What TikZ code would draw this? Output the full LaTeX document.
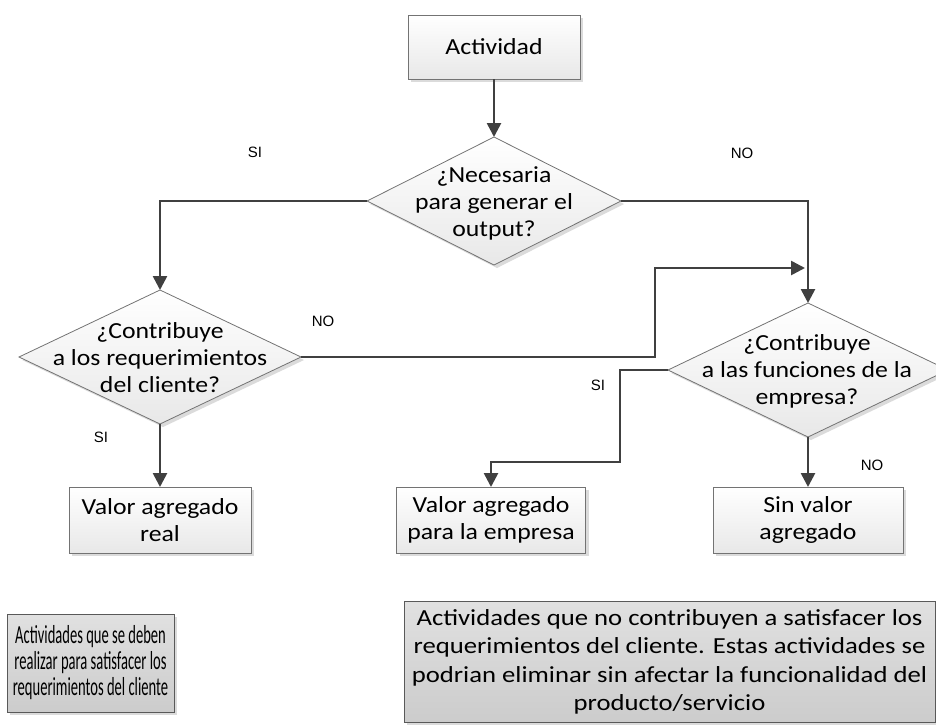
\documentclass[tikz,border=0pt]{standalone}
\usepackage{fontspec}
\setmainfont{Carlito}
\newfontfamily\mf[FakeStretch=1.12]{Carlito}
\newfontfamily\cf[FakeStretch=0.56]{Carlito}
\newfontfamily\cff[FakeStretch=1.16]{Carlito}
\newfontfamily\lf{Liberation Sans}
\usetikzlibrary{shapes.geometric,arrows.meta,shadows}
\begin{document}
\begin{tikzpicture}[x=1pt,y=-1pt,
  conn/.style={draw=black!75, line width=2.6pt},
  arr/.style={conn, -{Triangle[length=14pt,width=14pt]}},
  shade/.style={drop shadow={shadow xshift=3pt,shadow yshift=-3pt,fill=black!14,opacity=1}},
  procbox/.style={shade, draw=black!55, line width=0.8pt, top color=white, bottom color=black!9,
    inner sep=0pt, outer sep=0pt, align=center, font=\mf\fontsize{23}{27}\selectfont},
  dia/.style={shape=diamond, shade, draw=black!55, line width=0.8pt, top color=white, bottom color=black!9,
    inner sep=0pt, outer sep=0pt},
  dtext/.style={align=center, font=\mf\fontsize{23}{27}\selectfont, inner sep=0pt},
  notebox/.style={shade, draw=black!65, line width=0.8pt, top color=black!12, bottom color=black!20,
    inner sep=0pt, outer sep=0pt, align=center},
  lab/.style={font=\lf\fontsize{15}{18}\selectfont, inner sep=0pt}]
\useasboundingbox (0,0) rectangle (936,724);

% process boxes
\node[procbox, minimum width=172pt, minimum height=64pt] (act) at (494,47) {Actividad};
\node[procbox, minimum width=182pt, minimum height=66pt] (b1) at (160,520) {Valor agregado\\real};
\node[procbox, minimum width=189pt, minimum height=66pt] (b2) at (491,520) {Valor agregado\\para la empresa};
\node[procbox, minimum width=190pt, minimum height=66pt] (b3) at (808,520) {Sin valor\\agregado};

% decisions
\node[dia, minimum width=254pt, minimum height=128pt] (d1) at (494,201) {};
\node[dtext] (t1) at (494,203) {¿Necesaria\\para generar el\\output?};
\node[dia, minimum width=282pt, minimum height=134pt] (d2) at (160,357) {};
\node[dtext] (t2) at (160,358) {¿Contribuye\\a los requerimientos\\del cliente?};
\node[dia, minimum width=280pt, minimum height=134pt] (d3) at (808,370) {};
\node[dtext] (t3) at (807,371) {¿Contribuye\\a las funciones de la\\empresa?};

% notes
\node[notebox, minimum width=167pt, minimum height=98pt, font=\cf\fontsize{26}{26}\selectfont] (n1) at (90.5,663) {Actividades que se deben\\realizar para satisfacer los\\requerimientos del cliente};
\node[notebox, minimum width=531pt, minimum height=121pt, font=\cff\fontsize{23}{28.5}\selectfont] (n2) at (669.5,662) {Actividades que no contribuyen a satisfacer los\\requerimientos del cliente. Estas actividades se\\podrian eliminar sin afectar la funcionalidad del\\producto/servicio};

% helper points
\coordinate (k1) at (655,268);
\coordinate (k2) at (805,268);
\coordinate (m1) at (620,462);

% connectors
\draw[arr] (act.south) -- (d1.north);
\draw[arr] (d1.west) -| (d2.north);
\draw[arr] (d1.east) -| (d3.north);
\draw[arr] (d2.east) -| (k1) -- (k2);
\draw[arr] (d2.south) -- (d2.south |- b1.north);
\draw[arr] (d3.west) -| (m1) -| (b2.north);
\draw[arr] (d3.south) -- (d3.south |- b3.north);

% labels
\node[lab] (l1) at (255,152) {SI};
\node[lab] (l2) at (742,153) {NO};
\node[lab] (l3) at (323,321) {NO};
\node[lab] (l4) at (598,385) {SI};
\node[lab] (l5) at (101,437) {SI};
\node[lab] (l6) at (872,465) {NO};
\end{tikzpicture}
\end{document}
